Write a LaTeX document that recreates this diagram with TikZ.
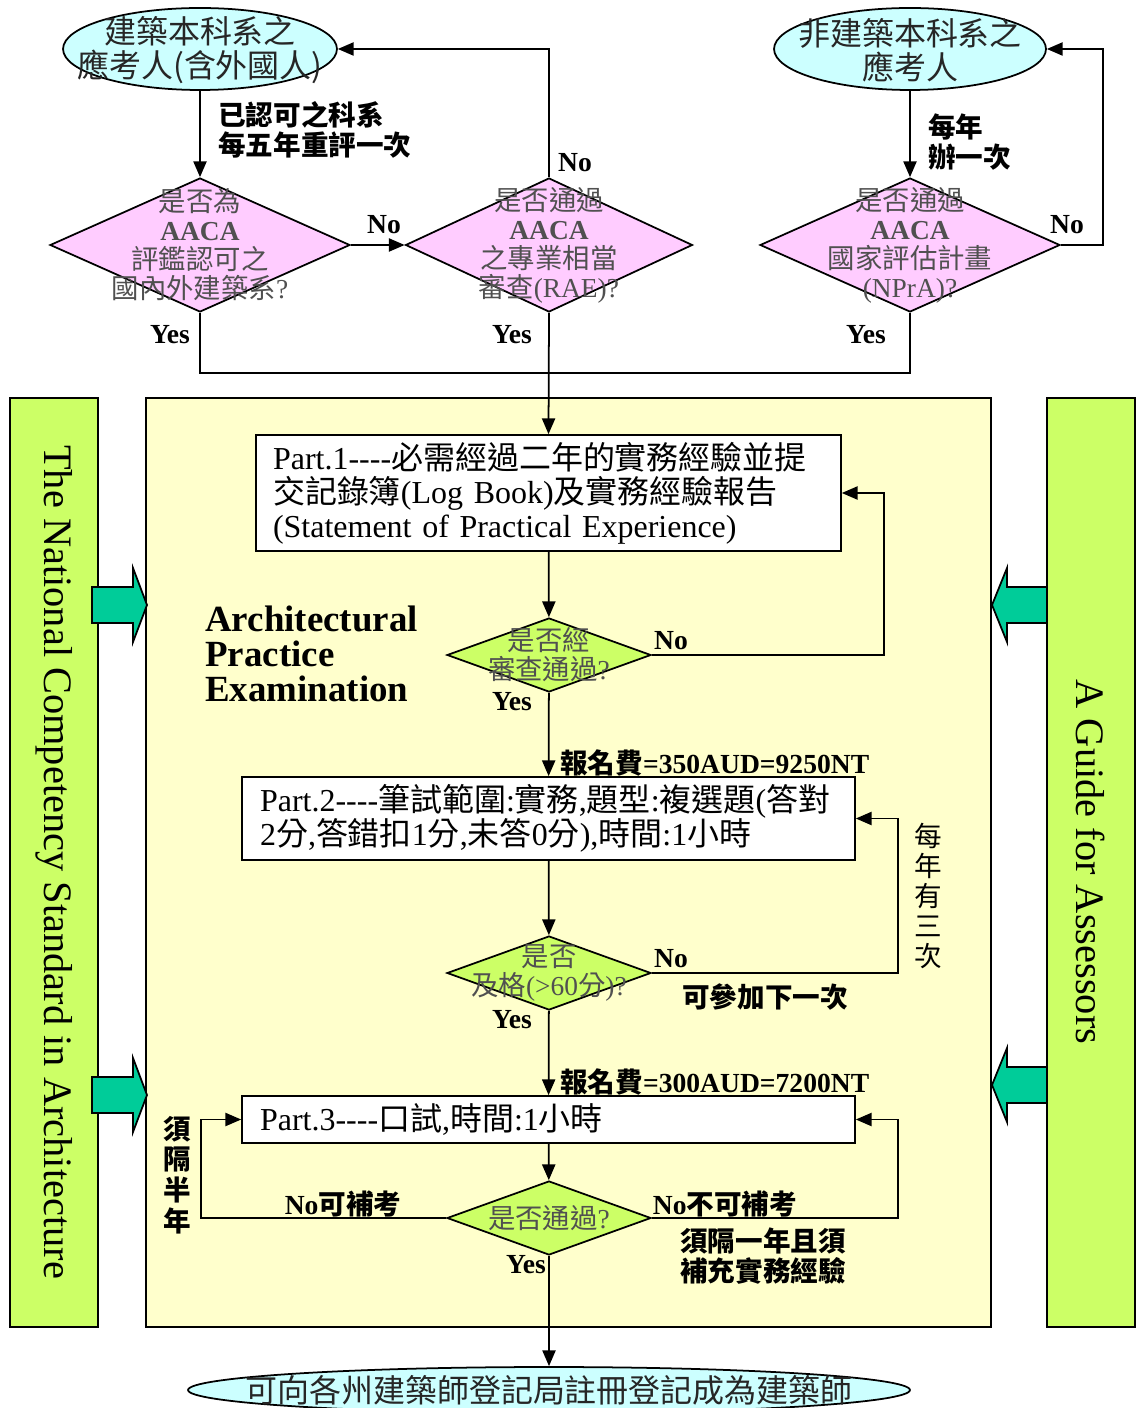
\documentclass[tikz,border=0pt]{standalone}
\usepackage{fontspec}
\setmainfont{Liberation Serif}
\newfontfamily\zh{Noto Sans CJK TC}
\usetikzlibrary{shapes.geometric,arrows.meta}

\definecolor{skyfill}{HTML}{CCFFFF}
\definecolor{pinkfill}{HTML}{FFCCFF}
\definecolor{limefill}{HTML}{CCFF66}
\definecolor{creamfill}{HTML}{FFFFCC}
\definecolor{tealfill}{HTML}{00CC99}
\definecolor{greytext}{HTML}{505050}

\newcommand{\lblfont}{\fontsize{15.7}{17.5}\selectfont\bfseries}
\newcommand{\boxfont}{\fontsize{18.2}{19.3}\selectfont}
\newcommand{\dash}{-{}-{}-{}-}

\tikzset{
  startend/.style={ellipse, draw, line width=1pt, fill=skyfill, inner sep=0pt},
  endtext/.style={align=center, text=black!85, inner sep=0pt,
    font=\zh\fontsize{18.2}{19.3}\selectfont},
  aacadiam/.style={diamond, draw, line width=1pt, fill=pinkfill, inner sep=0pt,
    minimum height=2.68cm},
  checkdiam/.style={diamond, draw, line width=1pt, fill=limefill, inner sep=0pt,
    minimum width=4.08cm, minimum height=1.48cm},
  dtext/.style={align=center, text=greytext, inner sep=0pt,
    font=\fontsize{15.6}{16.5}\selectfont},
  partbox/.style={draw, line width=1pt, fill=white, align=left, inner sep=0pt,
    font=\boxfont},
  flowlbl/.style={inner sep=0pt, font=\lblfont},
  flow/.style={>={Stealth[length=9pt,width=7.5pt,inset=0pt]}, ->, line width=1pt},
  fatarrow/.style={draw, line width=1pt, fill=tealfill}
}

\begin{document}
\begin{tikzpicture}[x=0.02cm, y=-0.02cm]
\useasboundingbox (0,0) rectangle (1137,1408);

% candidates and AACA checks
\node[startend, minimum width=5.48cm, minimum height=1.64cm] (arch) at (200,49) {};
\node[endtext] (archt) at (200,50) {建築本科系之\\應考人(含外國人)};
\node[startend, minimum width=5.44cm, minimum height=1.64cm] (nonarch) at (910,49) {};
\node[endtext] (nonarcht) at (910,50) {非建築本科系之\\應考人};

\node[aacadiam, minimum width=6cm] (accr) at (200,245) {};
\node[aacadiam, minimum width=5.74cm] (rae) at (549,245) {};
\node[aacadiam, minimum width=6cm] (npra) at (910,245) {};
\node[dtext] (accrt) at (200,245)
  {{\zh 是否為}\\\textbf{AACA}\\{\zh 評鑑認可之}\\{\zh 國內外建築系}?};
\node[dtext] (raet) at (549,245)
  {{\zh 是否通過}\\\textbf{AACA}\\{\zh 之專業相當}\\{\zh 審查}(RAE)?};
\node[dtext] (nprat) at (910,245)
  {{\zh 是否通過}\\\textbf{AACA}\\{\zh 國家評估計畫}\\(NPrA)?};

\draw[flow] (arch) -- (accr);
\draw[flow] (nonarch) -- (npra);
\draw[flow] (accr) -- (rae);
\draw[flow] (rae.north) |- (arch.east);
\draw[flow] (npra.east) -- ++(42,0) |- (nonarch.east);
\draw[line width=1pt] (accr.south) -- ++(0,60) -| (npra.south);

\node[flowlbl, anchor=west, align=left] (reval) at (218,130)
  {{\zh 已認可之科系}\\{\zh 每五年重評一次}};
\node[flowlbl, anchor=west, align=left] (yearly) at (928,142)
  {{\zh 每年}\\{\zh 辦一次}};
\node[flowlbl] (no1) at (384,225) {No};
\node[flowlbl] (no2) at (575,163) {No};
\node[flowlbl] (no3) at (1067,225) {No};
\node[flowlbl] (yes1) at (170,335) {Yes};
\node[flowlbl] (yes2) at (512,335) {Yes};
\node[flowlbl] (yes3) at (866,335) {Yes};

% side bars and exam area
\draw[line width=1pt, fill=limefill] (10,398) rectangle (98,1327);
\draw[line width=1pt, fill=limefill] (1047,398) rectangle (1135,1327);
\draw[line width=1pt, fill=creamfill] (146,398) rectangle (991,1327);
\node[rotate=-90, inner sep=0pt, font=\fontsize{23}{25}\selectfont] (ncsa) at (54,862)
  {The National Competency Standard in Architecture};
\node[rotate=-90, inner sep=0pt, font=\fontsize{23}{25}\selectfont] (guide) at (1091,862)
  {A Guide for Assessors};

\draw[fatarrow] (92,587) -- (133,587) -- (133,568) -- (147,605) -- (133,642)
  -- (133,623) -- (92,623) -- cycle;
\draw[fatarrow] (92,1077) -- (133,1077) -- (133,1058) -- (147,1095) -- (133,1132)
  -- (133,1113) -- (92,1113) -- cycle;
\draw[fatarrow] (1047,587) -- (1007,587) -- (1007,568) -- (992,605) -- (1007,642)
  -- (1007,623) -- (1047,623) -- cycle;
\draw[fatarrow] (1047,1067) -- (1007,1067) -- (1007,1048) -- (992,1085) -- (1007,1122)
  -- (1007,1103) -- (1047,1103) -- cycle;

\node[inner sep=0pt, anchor=west, align=left, font=\bfseries\fontsize{21}{20}\selectfont] (ape) at (205,654)
  {Architectural\\Practice\\Examination};

% part 1
\node[partbox, minimum width=11.7cm, minimum height=2.32cm, text width=11.02cm] (part1) at (548.5,493)
  {Part.1\dash{\zh 必需經過二年的實務經驗並提}\\{\zh 交記錄簿}(Log Book){\zh 及實務經驗報告}\\(Statement of Practical Experience)};
\node[checkdiam] (rev) at (549,655) {};
\node[dtext] (revt) at (549,655) {{\zh 是否經}\\{\zh 審查通過}?};
\draw[flow] (rae.south) -- (part1.north);
\draw[flow] (part1) -- (rev);
\draw[flow] (rev.east) -- ++(232,0) |- (part1.east);
\node[flowlbl] (no4) at (671,641) {No};
\node[flowlbl] (yes4) at (512,702) {Yes};

% part 2
\node[partbox, minimum width=12.26cm, minimum height=1.66cm, text width=11.54cm] (part2) at (548.5,818.5)
  {Part.2\dash{\zh 筆試範圍}:{\zh 實務},{\zh 題型}:{\zh 複選題}({\zh 答對}\\2{\zh 分},{\zh 答錯扣}1{\zh 分},{\zh 未答}0{\zh 分}),{\zh 時間}:1{\zh 小時}};
\node[checkdiam] (pass) at (549,973) {};
\node[dtext] (passt) at (549,973) {{\zh 是否}\\{\zh 及格}({\textgreater}60{\zh 分})?};
\draw[flow] (rev) -- (part2);
\draw[flow] (part2) -- (pass);
\draw[flow] (pass.east) -- ++(246,0) |- (part2.east);
\node[flowlbl, anchor=west] (fee1) at (560,763) {{\zh 報名費}=350AUD=9250NT};
\node[flowlbl] (no5) at (671,959) {No};
\node[flowlbl] (retry) at (765,997) {\zh 可參加下一次};
\node[inner sep=0pt, align=center, font=\zh\fontsize{15.7}{17}\selectfont] (thrice) at (928,896)
  {每\\年\\有\\三\\次};
\node[flowlbl] (yes5) at (512,1020) {Yes};

% part 3
\node[partbox, minimum width=12.26cm, minimum height=0.94cm, text width=11.54cm] (part3) at (548.5,1119.5)
  {Part.3\dash{\zh 口試},{\zh 時間}:1{\zh 小時}};
\node[checkdiam] (oral) at (549,1218) {};
\node[dtext] (oralt) at (549,1218) {{\zh 是否通過}?};
\draw[flow] (pass) -- (part3);
\draw[flow] (part3) -- (oral);
\draw[flow] (oral.west) -- ++(-245,0) |- (part3.west);
\draw[flow] (oral.east) -- ++(246,0) |- (part3.east);
\node[flowlbl, anchor=west] (fee2) at (560,1082) {{\zh 報名費}=300AUD=7200NT};
\node[flowlbl] (resit) at (343,1204) {No{\zh 可補考}};
\node[flowlbl] (noresit) at (725,1204) {No{\zh 不可補考}};
\node[flowlbl, align=center, font=\zh\lblfont] (halfyr) at (177,1175) {須\\隔\\半\\年};
\node[flowlbl, align=left, font=\zh\lblfont] (oneyr) at (763,1256) {須隔一年且須\\補充實務經驗};
\node[flowlbl] (yes6) at (526,1265) {Yes};

% registration
\node[startend, minimum width=14.44cm, minimum height=0.92cm] (reg) at (549,1390) {};
\node[endtext] (regt) at (549,1390) {可向各州建築師登記局註冊登記成為建築師};
\draw[flow] (oral) -- (reg);
\end{tikzpicture}
\end{document}
